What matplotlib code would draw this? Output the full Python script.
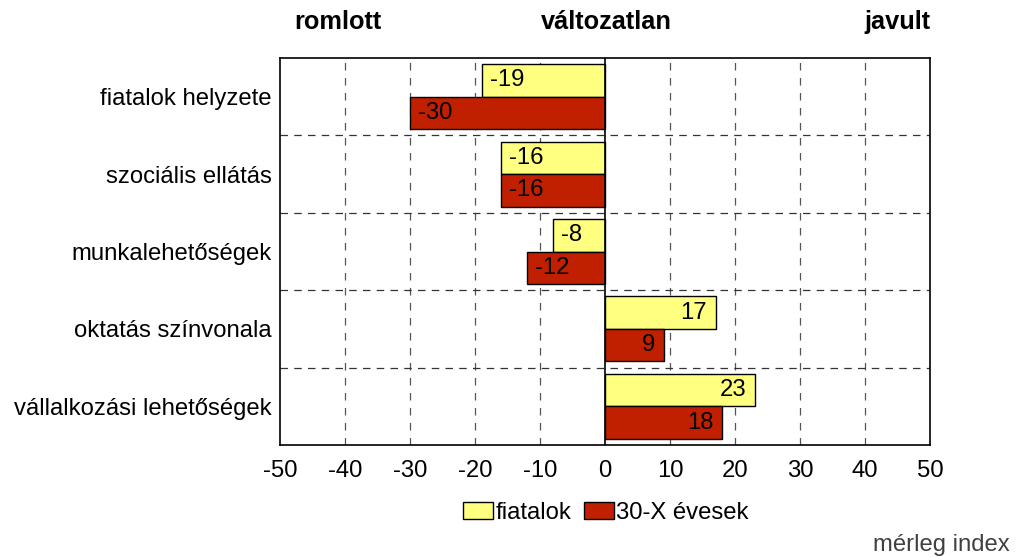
import matplotlib
matplotlib.use("Agg")
import matplotlib.pyplot as plt
import numpy as np
from matplotlib.patches import Patch

categories = ["fiatalok helyzete", "szociális ellátás", "munkalehetőségek",
              "oktatás színvonala", "vállalkozási lehetőségek"]
fiatalok = [-19, -16, -8, 17, 23]
idosebbek = [-30, -16, -12, 9, 18]
series_names = ["fiatalok", "30-X évesek"]
colors = ["#FFFF80", "#C02000"]

plt.rcParams['font.family'] = ['Liberation Sans', 'DejaVu Sans']
plt.rcParams['axes.unicode_minus'] = False

FS = 17.2

fig = plt.figure(figsize=(10.16, 5.57), dpi=100)
ax = fig.add_axes([280/1016, 1-445/557, 650/1016, 387/557])

n = len(categories)
y = np.arange(n)
h = 0.42
for vals, col, off in [(fiatalok, colors[0], -h/2), (idosebbek, colors[1], h/2)]:
    bars = ax.barh(y + off, vals, height=h, color=col, edgecolor="black", linewidth=1, zorder=3)
    for b, v in zip(bars, vals):
        yc = b.get_y() + b.get_height()/2
        if v < 0:
            ax.text(v + 1.3, yc, str(v), ha="left", va="center", fontsize=FS, zorder=4)
        else:
            ax.text(v - 1.3, yc, str(v), ha="right", va="center", fontsize=FS, zorder=4)

ax.set_xlim(-50, 50)
ax.set_ylim(n - 0.5, -0.5)
ax.set_xticks(np.arange(-50, 51, 10))
ax.set_yticks(y)
ax.set_yticklabels(categories, fontsize=FS)
ax.tick_params(axis="x", labelsize=FS, length=0, pad=11)
ax.tick_params(axis="y", length=0, pad=6)
for xv in np.arange(-40, 41, 10):
    if xv != 0:
        ax.axvline(xv, color="#555555", linestyle=(0, (6, 6)), linewidth=0.9, zorder=1)
for yv in np.arange(0.5, n - 0.5, 1):
    ax.axhline(yv, color="#333333", linestyle=(0, (6, 5)), linewidth=0.9, zorder=1)
ax.axvline(0, color="black", linewidth=1.2, zorder=5)
for s in ax.spines.values():
    s.set_linewidth(1.2)

TS = 18.3
fig.text(338/1016, 1-22/557, "romlott", ha="center", va="center", fontsize=TS, fontweight="bold")
fig.text(606/1016, 1-22/557, "változatlan", ha="center", va="center", fontsize=TS, fontweight="bold")
fig.text(897/1016, 1-22/557, "javult", ha="center", va="center", fontsize=TS, fontweight="bold")
fig.text(1010/1016, 1-545/557, "mérleg index", ha="right", va="center", fontsize=FS, color="#404040")

handles = [Patch(facecolor=c, edgecolor="black", label=l) for c, l in zip(colors, series_names)]
fig.legend(handles=handles, loc="center", bbox_to_anchor=(606/1016, 1-513/557), ncol=2,
           frameon=False, fontsize=FS, handlelength=1.25, handleheight=0.75,
           handletextpad=0.12, columnspacing=0.5)

fig.savefig("out.png", dpi=100)
